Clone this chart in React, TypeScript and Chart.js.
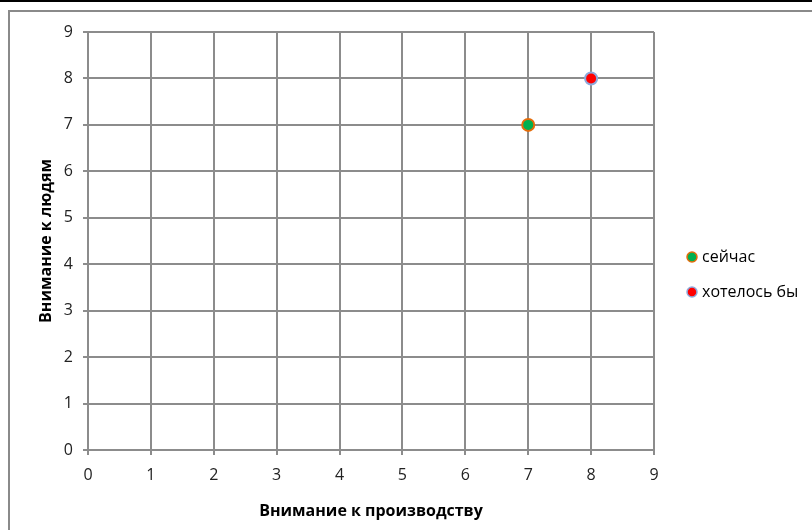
import React, { useEffect, useRef } from "react";
import { Chart, registerables } from "chart.js";

Chart.register(...registerables);

const seriesNames = ["сейчас", "хотелось бы"];
const nowPoints = [{ x: 7, y: 7 }];
const wishPoints = [{ x: 8, y: 8 }];
const xTitle = "Внимание к производству";
const yTitle = "Внимание к людям";
const axisMin = 0;
const axisMax = 9;
const fillColors = ["#00B050", "#FF0000"];
const edgeColors = ["#E46C0A", "#8EA9DB"];

const FONT = "'Open Sans', 'DejaVu Sans', sans-serif";
const GRID = "#8c8c8c";

const sideLegend = {
  id: "sideLegend",
  afterDraw(chart: any) {
    const { ctx, chartArea } = chart;
    const midY = (chartArea.top + chartArea.bottom) / 2;
    ctx.save();
    chart.data.datasets.forEach((ds: any, i: number) => {
      const cx = chartArea.right + 38;
      const cy = midY + 16 + i * 35;
      ctx.beginPath();
      ctx.arc(cx, cy, 5, 0, Math.PI * 2);
      ctx.fillStyle = ds.backgroundColor;
      ctx.fill();
      ctx.lineWidth = 1.5;
      ctx.strokeStyle = ds.borderColor;
      ctx.stroke();
      ctx.fillStyle = "#000";
      ctx.font = `16px ${FONT}`;
      ctx.textBaseline = "middle";
      ctx.textAlign = "left";
      ctx.fillText(ds.label, cx + 10, cy);
    });
    ctx.restore();
  },
};

export default function App() {
  const ref = useRef<HTMLCanvasElement>(null);
  useEffect(() => {
    if (!ref.current) return;
    const chart = new Chart(ref.current, {
      type: "scatter",
      data: {
        datasets: [
          {
            label: seriesNames[0],
            data: nowPoints,
            backgroundColor: fillColors[0],
            borderColor: edgeColors[0],
            borderWidth: 2,
            pointRadius: 6,
          },
          {
            label: seriesNames[1],
            data: wishPoints,
            backgroundColor: fillColors[1],
            borderColor: edgeColors[1],
            borderWidth: 2,
            pointRadius: 6,
          },
        ],
      },
      options: {
        animation: false,
        responsive: false,
        layout: { padding: { left: 0, top: 32, right: 158, bottom: 0 } },
        plugins: { legend: { display: false }, tooltip: { enabled: false } },
        scales: {
          x: {
            type: "linear",
            min: axisMin,
            max: axisMax,
            ticks: { stepSize: 1, padding: 11, color: "#222", font: { family: FONT, size: 16 } },
            grid: { color: GRID, lineWidth: 2, tickLength: 5 },
            border: { color: GRID, width: 2 },
            title: {
              display: true,
              text: xTitle,
              color: "#000",
              font: { family: FONT, size: 16, weight: "bold" },
              padding: { top: 0, bottom: 9 },
            },
            afterFit: (s: any) => {
              s.height = 80;
            },
          },
          y: {
            type: "linear",
            min: axisMin,
            max: axisMax,
            ticks: { stepSize: 1, padding: 10, color: "#222", font: { family: FONT, size: 16 } },
            grid: { color: GRID, lineWidth: 2, tickLength: 5 },
            border: { color: GRID, width: 2 },
            title: {
              display: true,
              text: yTitle,
              color: "#000",
              font: { family: FONT, size: 16, weight: "bold" },
              padding: { top: 37, bottom: 0 },
            },
            afterFit: (s: any) => {
              s.width = 88;
            },
          },
        },
      },
      plugins: [sideLegend],
    });
    return () => chart.destroy();
  }, []);

  return (
    <div style={{ position: "fixed", left: 0, top: 0, width: 812, height: 530, background: "#fff", overflow: "hidden" }}>
      <div style={{ position: "absolute", left: 0, top: 0, width: 812, height: 2, background: "#000" }} />
      <div
        style={{
          position: "absolute",
          left: 8,
          top: 10,
          width: 804,
          height: 520,
          borderLeft: "2px solid #8a8a8a",
          borderTop: "2px solid #8a8a8a",
          boxSizing: "border-box",
        }}
      />
      <canvas ref={ref} width={812} height={530} style={{ position: "absolute", left: 0, top: 0, width: 812, height: 530 }} />
    </div>
  );
}
